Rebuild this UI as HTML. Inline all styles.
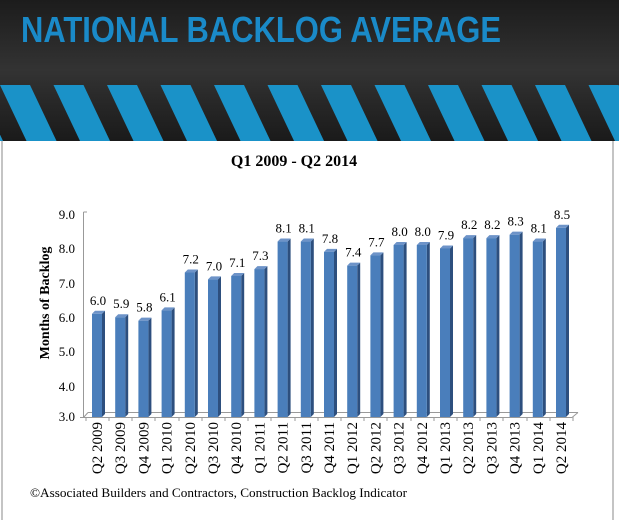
<!DOCTYPE html>
<html><head><meta charset="utf-8"><style>
html,body{margin:0;padding:0;background:#fff;}
svg{display:block;}
</style></head><body>
<svg width="619" height="520" xmlns="http://www.w3.org/2000/svg">
<defs>
<linearGradient id="bg" x1="0" y1="0" x2="0" y2="1">
<stop offset="0" stop-color="#1c1c1c"/><stop offset="0.5" stop-color="#333"/><stop offset="1" stop-color="#1a1a1a"/>
</linearGradient>
<pattern id="str" x="0" y="85" width="53.5" height="57" patternUnits="userSpaceOnUse">
<polygon points="0,0 30,0 57,57 27,57" fill="#1a92c8"/>
<polygon points="-53.5,0 -23.5,0 3.5,57 -26.5,57" fill="#1a92c8"/>
</pattern>
</defs>
<rect x="0" y="0" width="619" height="141" fill="url(#bg)"/>
<rect x="0" y="85" width="619" height="56" fill="url(#str)"/>
<text x="21" y="42" font-family="Liberation Sans, sans-serif" font-weight="bold" font-size="36" fill="#1a8ac8" textLength="480" lengthAdjust="spacingAndGlyphs">NATIONAL BACKLOG AVERAGE</text>
<line x1="2" y1="141" x2="2" y2="520" stroke="#888" stroke-width="1"/>
<line x1="613" y1="141" x2="613" y2="520" stroke="#888" stroke-width="1"/>
<text x="294" y="166" text-anchor="middle" font-family="Liberation Serif, serif" font-weight="bold" font-size="16">Q1 2009 - Q2 2014</text>
<text transform="translate(49,303) rotate(-90)" text-anchor="middle" font-family="Liberation Serif, serif" font-weight="bold" font-size="14">Months  of Backlog</text>
<g font-family="Liberation Serif, serif" font-size="13" text-anchor="end" fill="#000">
<text x="75" y="219">9.0</text><text x="75" y="253">8.0</text><text x="75" y="288">7.0</text>
<text x="75" y="322">6.0</text><text x="75" y="356">5.0</text><text x="75" y="391">4.0</text><text x="75" y="421">3.0</text>
</g>
<g stroke="#999" stroke-width="1" fill="none">
<line x1="83.5" y1="212" x2="83.5" y2="417"/>
<line x1="83.5" y1="212" x2="87" y2="212"/>
<line x1="80" y1="417.5" x2="572" y2="417.5"/>
<line x1="88" y1="412.5" x2="578" y2="412.5"/>
<line x1="83.5" y1="417.5" x2="88" y2="412.5"/>
<line x1="572" y1="417.5" x2="578" y2="412.5"/>
<line x1="86" y1="417" x2="86" y2="421"/><line x1="109" y1="417" x2="109" y2="421"/><line x1="132" y1="417" x2="132" y2="421"/><line x1="155" y1="417" x2="155" y2="421"/><line x1="179" y1="417" x2="179" y2="421"/><line x1="202" y1="417" x2="202" y2="421"/><line x1="225" y1="417" x2="225" y2="421"/><line x1="248" y1="417" x2="248" y2="421"/><line x1="271" y1="417" x2="271" y2="421"/><line x1="295" y1="417" x2="295" y2="421"/><line x1="318" y1="417" x2="318" y2="421"/><line x1="341" y1="417" x2="341" y2="421"/><line x1="364" y1="417" x2="364" y2="421"/><line x1="387" y1="417" x2="387" y2="421"/><line x1="411" y1="417" x2="411" y2="421"/><line x1="434" y1="417" x2="434" y2="421"/><line x1="457" y1="417" x2="457" y2="421"/><line x1="480" y1="417" x2="480" y2="421"/><line x1="503" y1="417" x2="503" y2="421"/><line x1="527" y1="417" x2="527" y2="421"/><line x1="550" y1="417" x2="550" y2="421"/><line x1="573" y1="417" x2="573" y2="421"/>
</g>
<g font-family="Liberation Serif, serif" font-size="13" text-anchor="middle">
<g transform="translate(92,313.8)"><polygon points="10,0 13,-3 13,100.2 10,103.2" fill="#2d4f7e"/><polygon points="0,0 3,-3 13,-3 10,0" fill="#6d93c8"/><rect width="10" height="103.2" fill="#4a7ebb"/><text x="6" y="-9">6.0</text></g>
<g transform="translate(115.2,317.24)"><polygon points="10,0 13,-3 13,96.76 10,99.76" fill="#2d4f7e"/><polygon points="0,0 3,-3 13,-3 10,0" fill="#6d93c8"/><rect width="10" height="99.76" fill="#4a7ebb"/><text x="6" y="-9">5.9</text></g>
<g transform="translate(138.4,320.68)"><polygon points="10,0 13,-3 13,93.32 10,96.32" fill="#2d4f7e"/><polygon points="0,0 3,-3 13,-3 10,0" fill="#6d93c8"/><rect width="10" height="96.32" fill="#4a7ebb"/><text x="6" y="-9">5.8</text></g>
<g transform="translate(161.6,310.36)"><polygon points="10,0 13,-3 13,103.64 10,106.64" fill="#2d4f7e"/><polygon points="0,0 3,-3 13,-3 10,0" fill="#6d93c8"/><rect width="10" height="106.64" fill="#4a7ebb"/><text x="6" y="-9">6.1</text></g>
<g transform="translate(184.8,272.52)"><polygon points="10,0 13,-3 13,141.48 10,144.48" fill="#2d4f7e"/><polygon points="0,0 3,-3 13,-3 10,0" fill="#6d93c8"/><rect width="10" height="144.48" fill="#4a7ebb"/><text x="6" y="-9">7.2</text></g>
<g transform="translate(208,279.4)"><polygon points="10,0 13,-3 13,134.6 10,137.6" fill="#2d4f7e"/><polygon points="0,0 3,-3 13,-3 10,0" fill="#6d93c8"/><rect width="10" height="137.6" fill="#4a7ebb"/><text x="6" y="-9">7.0</text></g>
<g transform="translate(231.2,275.96)"><polygon points="10,0 13,-3 13,138.04 10,141.04" fill="#2d4f7e"/><polygon points="0,0 3,-3 13,-3 10,0" fill="#6d93c8"/><rect width="10" height="141.04" fill="#4a7ebb"/><text x="6" y="-9">7.1</text></g>
<g transform="translate(254.4,269.08)"><polygon points="10,0 13,-3 13,144.92 10,147.92" fill="#2d4f7e"/><polygon points="0,0 3,-3 13,-3 10,0" fill="#6d93c8"/><rect width="10" height="147.92" fill="#4a7ebb"/><text x="6" y="-9">7.3</text></g>
<g transform="translate(277.6,241.56)"><polygon points="10,0 13,-3 13,172.44 10,175.44" fill="#2d4f7e"/><polygon points="0,0 3,-3 13,-3 10,0" fill="#6d93c8"/><rect width="10" height="175.44" fill="#4a7ebb"/><text x="6" y="-9">8.1</text></g>
<g transform="translate(300.8,241.56)"><polygon points="10,0 13,-3 13,172.44 10,175.44" fill="#2d4f7e"/><polygon points="0,0 3,-3 13,-3 10,0" fill="#6d93c8"/><rect width="10" height="175.44" fill="#4a7ebb"/><text x="6" y="-9">8.1</text></g>
<g transform="translate(324,251.88)"><polygon points="10,0 13,-3 13,162.12 10,165.12" fill="#2d4f7e"/><polygon points="0,0 3,-3 13,-3 10,0" fill="#6d93c8"/><rect width="10" height="165.12" fill="#4a7ebb"/><text x="6" y="-9">7.8</text></g>
<g transform="translate(347.2,265.64)"><polygon points="10,0 13,-3 13,148.36 10,151.36" fill="#2d4f7e"/><polygon points="0,0 3,-3 13,-3 10,0" fill="#6d93c8"/><rect width="10" height="151.36" fill="#4a7ebb"/><text x="6" y="-9">7.4</text></g>
<g transform="translate(370.4,255.32)"><polygon points="10,0 13,-3 13,158.68 10,161.68" fill="#2d4f7e"/><polygon points="0,0 3,-3 13,-3 10,0" fill="#6d93c8"/><rect width="10" height="161.68" fill="#4a7ebb"/><text x="6" y="-9">7.7</text></g>
<g transform="translate(393.6,245)"><polygon points="10,0 13,-3 13,169 10,172" fill="#2d4f7e"/><polygon points="0,0 3,-3 13,-3 10,0" fill="#6d93c8"/><rect width="10" height="172" fill="#4a7ebb"/><text x="6" y="-9">8.0</text></g>
<g transform="translate(416.8,245)"><polygon points="10,0 13,-3 13,169 10,172" fill="#2d4f7e"/><polygon points="0,0 3,-3 13,-3 10,0" fill="#6d93c8"/><rect width="10" height="172" fill="#4a7ebb"/><text x="6" y="-9">8.0</text></g>
<g transform="translate(440,248.44)"><polygon points="10,0 13,-3 13,165.56 10,168.56" fill="#2d4f7e"/><polygon points="0,0 3,-3 13,-3 10,0" fill="#6d93c8"/><rect width="10" height="168.56" fill="#4a7ebb"/><text x="6" y="-9">7.9</text></g>
<g transform="translate(463.2,238.12)"><polygon points="10,0 13,-3 13,175.88 10,178.88" fill="#2d4f7e"/><polygon points="0,0 3,-3 13,-3 10,0" fill="#6d93c8"/><rect width="10" height="178.88" fill="#4a7ebb"/><text x="6" y="-9">8.2</text></g>
<g transform="translate(486.4,238.12)"><polygon points="10,0 13,-3 13,175.88 10,178.88" fill="#2d4f7e"/><polygon points="0,0 3,-3 13,-3 10,0" fill="#6d93c8"/><rect width="10" height="178.88" fill="#4a7ebb"/><text x="6" y="-9">8.2</text></g>
<g transform="translate(509.6,234.68)"><polygon points="10,0 13,-3 13,179.32 10,182.32" fill="#2d4f7e"/><polygon points="0,0 3,-3 13,-3 10,0" fill="#6d93c8"/><rect width="10" height="182.32" fill="#4a7ebb"/><text x="6" y="-9">8.3</text></g>
<g transform="translate(532.8,241.56)"><polygon points="10,0 13,-3 13,172.44 10,175.44" fill="#2d4f7e"/><polygon points="0,0 3,-3 13,-3 10,0" fill="#6d93c8"/><rect width="10" height="175.44" fill="#4a7ebb"/><text x="6" y="-9">8.1</text></g>
<g transform="translate(556,227.8)"><polygon points="10,0 13,-3 13,186.2 10,189.2" fill="#2d4f7e"/><polygon points="0,0 3,-3 13,-3 10,0" fill="#6d93c8"/><rect width="10" height="189.2" fill="#4a7ebb"/><text x="6" y="-9">8.5</text></g>
</g>
<g font-family="Liberation Serif, serif" font-size="15" text-anchor="end">
<text transform="translate(102,422) rotate(-90)">Q2 2009</text>
<text transform="translate(125.2,422) rotate(-90)">Q3 2009</text>
<text transform="translate(148.4,422) rotate(-90)">Q4 2009</text>
<text transform="translate(171.6,422) rotate(-90)">Q1 2010</text>
<text transform="translate(194.8,422) rotate(-90)">Q2 2010</text>
<text transform="translate(218,422) rotate(-90)">Q3 2010</text>
<text transform="translate(241.2,422) rotate(-90)">Q4 2010</text>
<text transform="translate(264.4,422) rotate(-90)">Q1 2011</text>
<text transform="translate(287.6,422) rotate(-90)">Q2 2011</text>
<text transform="translate(310.8,422) rotate(-90)">Q3 2011</text>
<text transform="translate(334,422) rotate(-90)">Q4 2011</text>
<text transform="translate(357.2,422) rotate(-90)">Q1 2012</text>
<text transform="translate(380.4,422) rotate(-90)">Q2 2012</text>
<text transform="translate(403.6,422) rotate(-90)">Q3 2012</text>
<text transform="translate(426.8,422) rotate(-90)">Q4 2012</text>
<text transform="translate(450,422) rotate(-90)">Q1 2013</text>
<text transform="translate(473.2,422) rotate(-90)">Q2 2013</text>
<text transform="translate(496.4,422) rotate(-90)">Q3 2013</text>
<text transform="translate(519.6,422) rotate(-90)">Q4 2013</text>
<text transform="translate(542.8,422) rotate(-90)">Q1 2014</text>
<text transform="translate(566,422) rotate(-90)">Q2 2014</text>
</g>
<text x="30" y="497" font-family="Liberation Serif, serif" font-size="13" textLength="377" lengthAdjust="spacingAndGlyphs">©Associated Builders and Contractors, Construction Backlog  Indicator</text>
</svg>
</body></html>
